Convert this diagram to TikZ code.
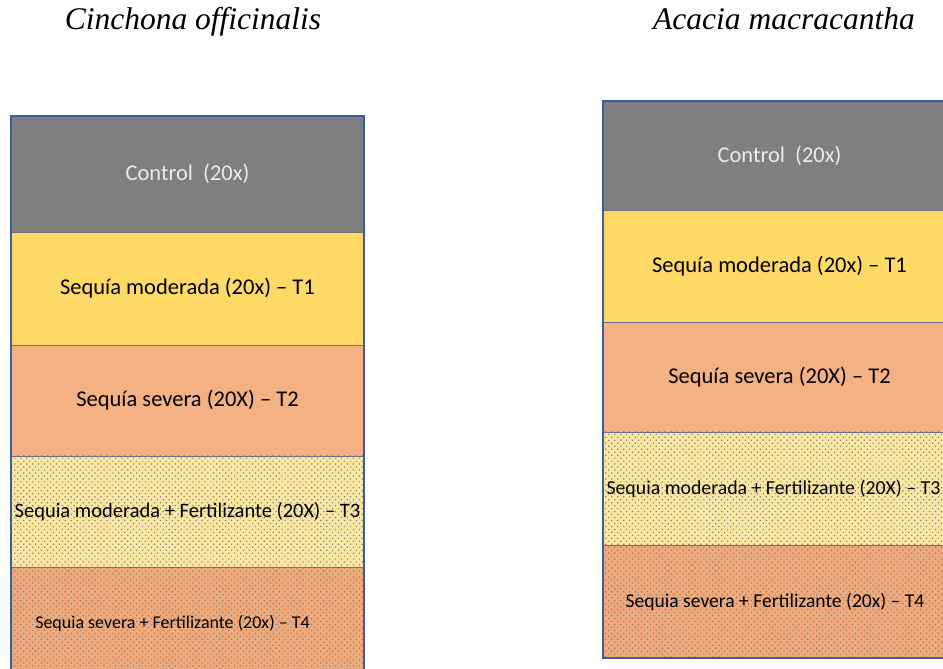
\documentclass[tikz,border=0pt]{standalone}
\usepackage{fontspec}
\setmainfont{Liberation Serif}
\newfontfamily\boxfont{Carlito}
\usetikzlibrary{positioning,patterns.meta}
\definecolor{ctlgray}{HTML}{7F7F7F}
\definecolor{modyellow}{HTML}{FFD966}
\definecolor{sevsalmon}{HTML}{F4B183}
\definecolor{fertyellow}{HTML}{FBE7A1}
\definecolor{fertsalmon}{HTML}{F1A97A}
\definecolor{frameblue}{HTML}{3B5C9E}
\definecolor{linegray}{HTML}{6A7388}
\begin{document}
\begin{tikzpicture}[x=1pt,y=1pt,
  row/.style={draw=linegray,line width=.8pt,minimum width=353pt,minimum height=#1,
    inner sep=0pt,outer sep=0pt,font=\boxfont\fontsize{22.5}{26}\selectfont},
  row/.default=112pt,
  txt/.style={font=\boxfont\fontsize{#1}{#1}\selectfont},
  dotted row/.style={row,preaction={fill=#1},pattern={Dots[distance=4.2pt,angle=45,radius=.85pt]},pattern color=black!50},
  title/.style={font=\fontsize{31.5}{34}\selectfont\itshape,inner sep=0pt,anchor=base}]
\useasboundingbox (0,0) rectangle (943,669);
\clip (0,0) rectangle (943,669);
\begin{scope}
\node[title] (tA) at (193,639) {Cinchona officinalis};
\node[row=116pt,fill=ctlgray,text=white!92!black,anchor=north west] (ctlA) at (11,553) {Control\ \ (20x)};
\node[row=113pt,fill=modyellow,below=0pt of ctlA] (t1A) {Sequía moderada (20x) – T1};
\node[row=111pt,fill=sevsalmon,below=0pt of t1A] (t2A) {Sequía severa (20X) – T2};
\node[dotted row=fertyellow,minimum height=111pt,below=0pt of t2A,txt=20.5] (t3A) {Sequia moderada + Fertilizante (20X) – T3};
\node[dotted row=fertsalmon,minimum height=113pt,below=0pt of t3A,txt=18] (t4A) {Sequia severa + Fertilizante (20x) – T4\hspace*{30pt}\mbox{}};
\draw[frameblue,line width=1.4pt] (ctlA.north west) rectangle (t4A.south east);
\end{scope}
\begin{scope}
\node[title] (tB) at (784,639) {Acacia macracantha};
\node[row=109pt,fill=ctlgray,text=white!92!black,anchor=north west] (ctlB) at (603,568) {Control\ \ (20x)};
\node[row=112pt,fill=modyellow,below=0pt of ctlB] (t1B) {Sequía moderada (20x) – T1};
\node[row=110pt,fill=sevsalmon,below=0pt of t1B] (t2B) {Sequía severa (20X) – T2};
\node[dotted row=fertyellow,minimum height=113pt,below=0pt of t2B,txt=19.8] (t3B) {Sequia moderada + Fertilizante (20X) – T3\hspace*{12pt}\mbox{}};
\node[dotted row=fertsalmon,minimum height=113pt,below=0pt of t3B,txt=19.6] (t4B) {Sequia severa + Fertilizante (20x) – T4\hspace*{9pt}\mbox{}};
\draw[frameblue,line width=1.4pt] (ctlB.north west) rectangle (t4B.south east);
\end{scope}
\end{tikzpicture}
\end{document}
